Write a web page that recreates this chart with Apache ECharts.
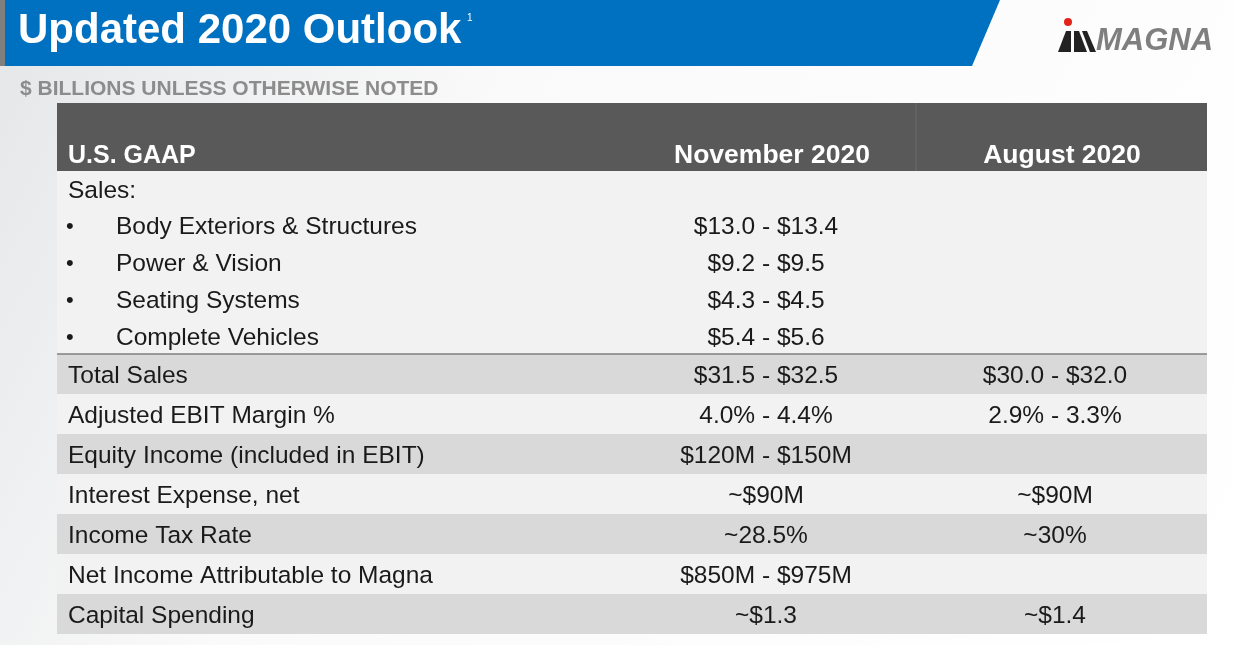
<!DOCTYPE html>
<html><head><meta charset="utf-8">
<script src="https://cdn.jsdelivr.net/npm/echarts@6/dist/echarts.min.js"></script>
<style>html,body{margin:0;padding:0;background:#fff}#c{width:1234px;height:645px}</style>
</head><body><div id="c"></div>
<script>
const title = "Updated 2020 Outlook";
const subtitle = "$ BILLIONS UNLESS OTHERWISE NOTED";
const headers = ["U.S. GAAP", "November 2020", "August 2020"];
const salesSegments = ["Body Exteriors & Structures", "Power & Vision", "Seating Systems", "Complete Vehicles"];
const salesNov = ["$13.0 - $13.4", "$9.2 - $9.5", "$4.3 - $4.5", "$5.4 - $5.6"];
const rowLabels = ["Total Sales", "Adjusted EBIT Margin %", "Equity Income (included in EBIT)", "Interest Expense, net", "Income Tax Rate", "Net Income Attributable to Magna", "Capital Spending"];
const rowNov = ["$31.5 - $32.5", "4.0% - 4.4%", "$120M - $150M", "~$90M", "~28.5%", "$850M - $975M", "~$1.3"];
const rowAug = ["$30.0 - $32.0", "2.9% - 3.3%", "", "~$90M", "~30%", "", "~$1.4"];

const F = "Liberation Sans, Arial, sans-serif";
const B = '24.5px '+F;
const g = [];
g.push({type:'rect',shape:{x:0,y:0,width:1234,height:645},style:{fill:new echarts.graphic.LinearGradient(0,0,1,1,[{offset:0,color:'#e4e6e8'},{offset:0.35,color:'#fafafa'},{offset:1,color:'#ffffff'}])}});
g.push({type:'polygon',shape:{points:[[0,0],[1000,0],[972,66],[0,66]]},style:{fill:'#0070c0'}});
g.push({type:'rect',shape:{x:0,y:0,width:5,height:66},style:{fill:'#7f7f7f'}});
g.push({type:'text',x:18,y:31,style:{text:title,font:'bold 42px '+F,fill:'#fff',verticalAlign:'middle'}});
g.push({type:'text',x:467,y:13,style:{text:'1',font:'10px '+F,fill:'#fff'}});
g.push({type:'circle',shape:{cx:1068,cy:22,r:4},style:{fill:'#e2231a'}});
g.push({type:'polygon',shape:{points:[[1058,52],[1066,31],[1071,31],[1071,52]]},style:{fill:'#222'}});
g.push({type:'polygon',shape:{points:[[1074,31],[1079,31],[1087,52],[1074,52]]},style:{fill:'#222'}});
g.push({type:'polygon',shape:{points:[[1082,31],[1087,31],[1096,52],[1090,52]]},style:{fill:'#222'}});
g.push({type:'text',x:1096,y:41,style:{text:'MAGNA',font:'italic 900 31px '+F,fill:'#7f7f7f',verticalAlign:'middle'}});
g.push({type:'text',x:20,y:89,style:{text:subtitle,font:'bold 21px '+F,fill:'#8c8c8c',verticalAlign:'middle'}});
const X0=57,X1=1207,XD=916,C1=772,C2=1062;
g.push({type:'rect',shape:{x:X0,y:103,width:X1-X0,height:68},style:{fill:'#595959'}});
g.push({type:'line',shape:{x1:XD,y1:103,x2:XD,y2:171},style:{stroke:'#6a6a6a',lineWidth:1}});
g.push({type:'text',x:68,y:156,style:{text:headers[0],font:'bold 25px '+F,fill:'#fff',verticalAlign:'middle'}});
g.push({type:'text',x:C1,y:156,style:{text:headers[1],font:'bold 26.5px '+F,fill:'#fff',align:'center',verticalAlign:'middle'}});
g.push({type:'text',x:C2,y:156,style:{text:headers[2],font:'bold 26.5px '+F,fill:'#fff',align:'center',verticalAlign:'middle'}});
g.push({type:'rect',shape:{x:X0,y:171,width:X1-X0,height:183},style:{fill:'#f2f2f2'}});
g.push({type:'text',x:68,y:191,style:{text:'Sales:',font:B,fill:'#1a1a1a',verticalAlign:'middle'}});
salesSegments.forEach((s,i)=>{
  const y=227+i*37;
  g.push({type:'text',x:66,y:y,style:{text:'•',font:'22px '+F,fill:'#1a1a1a',verticalAlign:'middle'}});
  g.push({type:'text',x:116,y:y,style:{text:s,font:B,fill:'#1a1a1a',verticalAlign:'middle'}});
  g.push({type:'text',x:766,y:y,style:{text:salesNov[i],font:B,fill:'#1a1a1a',align:'center',verticalAlign:'middle'}});
});
rowLabels.forEach((s,i)=>{
  const y0=354+i*40, yc=y0+22;
  g.push({type:'rect',shape:{x:X0,y:y0,width:X1-X0,height:40},style:{fill:i%2===0?'#d9d9d9':'#f2f2f2'}});
  g.push({type:'text',x:68,y:yc,style:{text:s,font:B,fill:'#1a1a1a',verticalAlign:'middle'}});
  g.push({type:'text',x:766,y:yc,style:{text:rowNov[i],font:B,fill:'#1a1a1a',align:'center',verticalAlign:'middle'}});
  g.push({type:'text',x:1055,y:yc,style:{text:rowAug[i],font:B,fill:'#1a1a1a',align:'center',verticalAlign:'middle'}});
});
g.push({type:'line',shape:{x1:X0,y1:354,x2:X1,y2:354},style:{stroke:'#7f7f7f',lineWidth:1.5}});
const chart=echarts.init(document.getElementById('c'));
chart.setOption({animation:false,graphic:{elements:g}});
</script></body></html>
